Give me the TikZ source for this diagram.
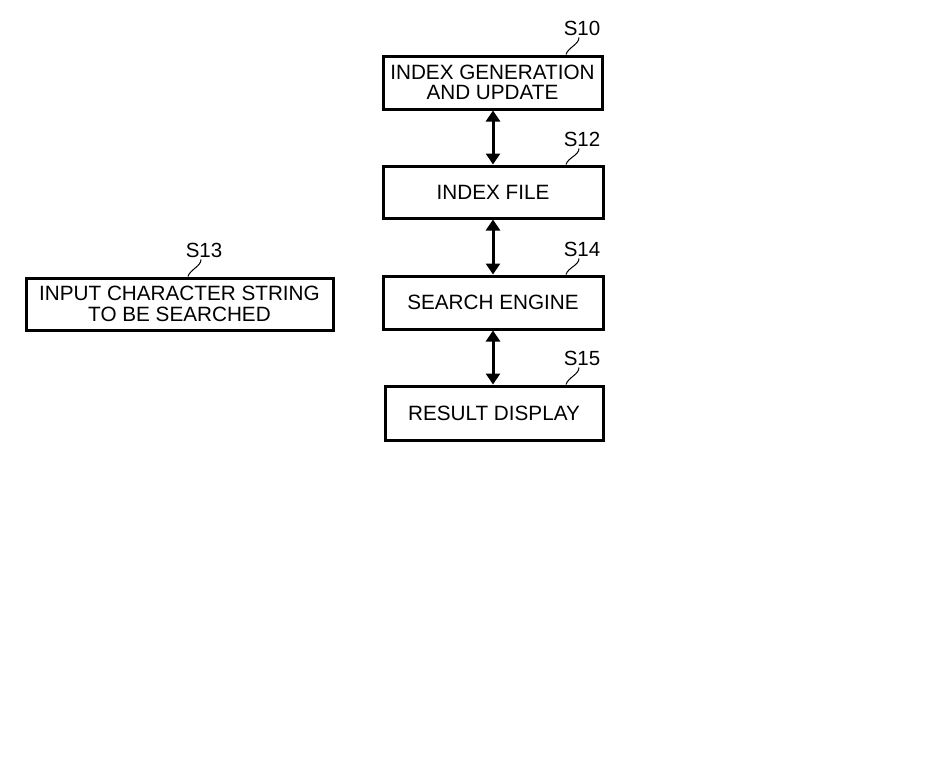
\documentclass[tikz,border=0pt]{standalone}
\usepackage{fontspec}
\setmainfont{Liberation Sans}
\usetikzlibrary{arrows.meta}
\begin{document}
\begin{tikzpicture}[x=1pt,y=-1pt,
  stepbox/.style={draw=black, line width=3pt, inner sep=0pt, align=center,
    font=\fontsize{20.7}{20.5}\selectfont},
  lbl/.style={inner sep=0pt, font=\fontsize{20.5}{20}\selectfont},
  leader/.style={line width=1pt},
  link/.style={line width=3pt, {Triangle[width=14pt,length=11pt]}-{Triangle[width=14pt,length=11pt]}}]
\useasboundingbox (0,0) rectangle (943,779);
\fill[white] (0,0) rectangle (943,779);
% boxes
\node[stepbox, minimum width=219pt, minimum height=53pt] (s10) at (492.5,82.5) {INDEX GENERATION\\AND UPDATE};
\node[stepbox, minimum width=220pt, minimum height=52pt] (s12) at (493,192) {INDEX FILE};
\node[stepbox, minimum width=220pt, minimum height=53pt] (s14) at (493,302.5) {SEARCH ENGINE};
\node[stepbox, minimum width=218pt, minimum height=54pt] (s15) at (494,413) {RESULT DISPLAY};
\node[stepbox, minimum width=307pt, minimum height=52pt] (s13) at (179.5,304) {INPUT CHARACTER STRING\\TO BE SEARCHED};
% labels
\node[lbl] (l10) at (582,28) {S10};
\node[lbl] (l12) at (582,139) {S12};
\node[lbl] (l14) at (582,249) {S14};
\node[lbl] (l15) at (582,358) {S15};
\node[lbl] (l13) at (204,250) {S13};
% leaders
\foreach \l/\b in {l10/s10,l12/s12,l14/s14,l15/s15,l13/s13}{
  \draw[leader] ([xshift=-3pt,yshift=-2pt]\l.south) .. controls +(0,7) and +(2,-7) .. ([xshift=-16pt]\l.south |- \b.north);
}
% connectors
\coordinate (c10) at ([xshift=0.5pt]s10.south);
\draw[link] (c10) -- (c10 |- s12.north);
\draw[link] (s12.south) -- (s12.south |- s14.north);
\draw[link] (s14.south) -- (s14.south |- s15.north);
\end{tikzpicture}
\end{document}
